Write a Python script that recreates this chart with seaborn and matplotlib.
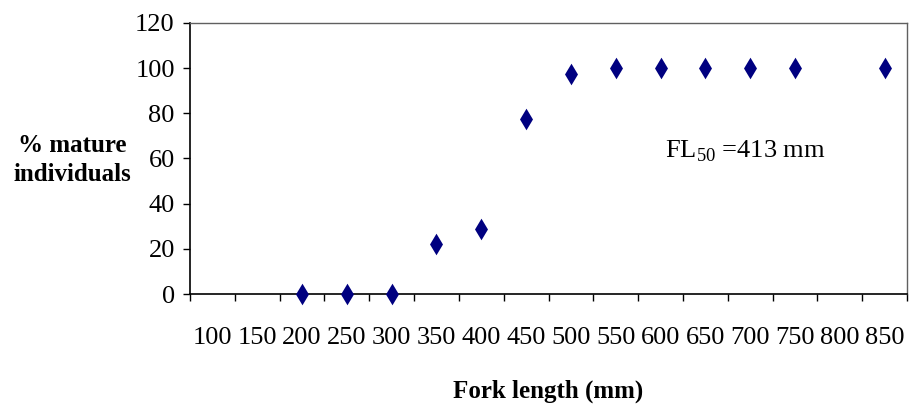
import numpy as np
import pandas as pd
import seaborn as sns
import matplotlib
matplotlib.use('Agg')
import matplotlib.pyplot as plt

# 데이터 : 체장(mm) 구간별 성숙 개체 비율(%)
length_classes = ['100', '150', '200', '250', '300', '350', '400', '450',
                  '500', '550', '600', '650', '700', '750', '800', '850']
fork_length = ['200', '250', '300', '350', '400', '450', '500',
               '550', '600', '650', '700', '750', '850']
pct_mature = [0, 0, 0, 22, 29, 77.5, 97.5, 100, 100, 100, 100, 100, 100]
y_ticks = [0, 20, 40, 60, 80, 100, 120]

df = pd.DataFrame({'fl': fork_length, 'pct': pct_mature})

sns.set_style('white')
plt.rcParams['font.family'] = ['Liberation Serif', 'DejaVu Serif']
plt.rcParams['text.color'] = 'black'
plt.rcParams['axes.labelcolor'] = 'black'
plt.rcParams['xtick.color'] = 'black'
plt.rcParams['ytick.color'] = 'black'
plt.rcParams['mathtext.fontset'] = 'custom'
plt.rcParams['mathtext.rm'] = 'Liberation Serif'

fig = plt.figure(figsize=(9.11, 4.12), dpi=100)
ax = fig.add_axes([0.2086, 0.2864, 0.7870, 0.6578])

sns.stripplot(data=df, x='fl', y='pct', order=length_classes, jitter=False,
              marker='d', size=11, color='#000080', linewidth=0, ax=ax,
              clip_on=False, zorder=5)

ax.set_xlim(-0.5, len(length_classes) - 0.5)
ax.set_ylim(0, 120)
ax.set_yticks(y_ticks)
ax.tick_params(axis='y', labelsize=19, length=5, width=1, direction='out',
               left=True, pad=6)
# 카테고리 사이 경계에 눈금 표시
ax.set_xticks(np.arange(len(length_classes)))
ax.set_xticklabels(length_classes)
ax.set_xticks(np.arange(len(length_classes) + 1) - 0.5, minor=True)
ax.tick_params(axis='x', which='major', labelsize=19, length=0, pad=24)
ax.tick_params(axis='x', which='minor', length=5, width=1, direction='out',
               bottom=True)

for s in ['left', 'bottom']:
    ax.spines[s].set_color('black')
    ax.spines[s].set_linewidth(1.2)
for s in ['top', 'right']:
    ax.spines[s].set_color('#606060')
    ax.spines[s].set_linewidth(1.0)

ax.set_xlabel('Fork length (mm)', fontsize=18, fontweight='bold', labelpad=22)
ax.set_ylabel('')
fig.text(0.079, 0.612, '% mature\nindividuals', fontsize=18, fontweight='bold',
         ha='center', va='center', linespacing=1.3)

ax.text(11.9, 63, r'FL$_{50}$ =413 mm', fontsize=19, ha='center', va='center')

fig.savefig('out.png', dpi=100)
